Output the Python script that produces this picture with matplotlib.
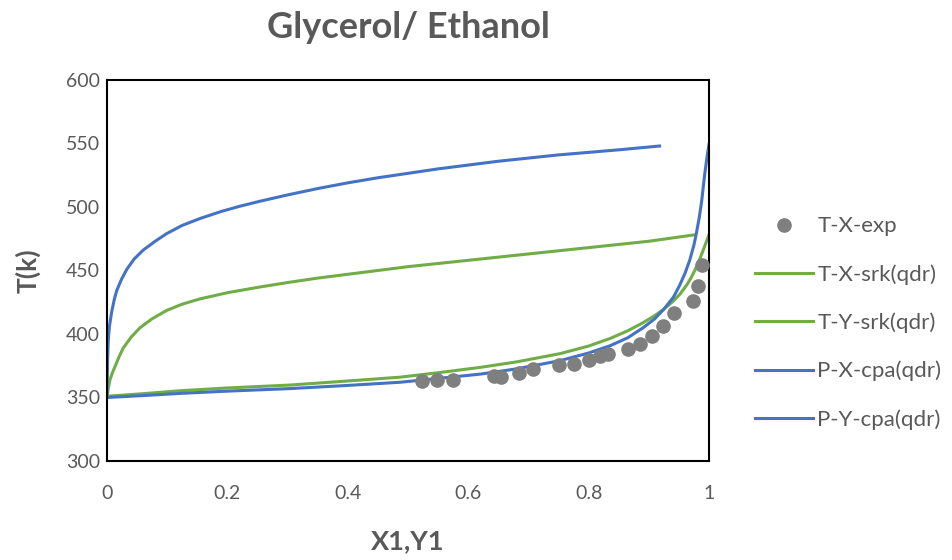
import numpy as np
import matplotlib
matplotlib.use("Agg")
from matplotlib import pyplot as plt

# experimental points T-X
x_exp = [0.524, 0.549, 0.574, 0.643, 0.655, 0.684, 0.708, 0.751, 0.776, 0.801,
         0.819, 0.833, 0.866, 0.885, 0.906, 0.923, 0.942, 0.974, 0.981, 0.988]
t_exp = [363.2, 363.7, 363.7, 367.0, 365.9, 369.0, 372.5, 375.8, 376.4, 379.5,
         383.0, 384.3, 388.2, 392.1, 398.7, 406.6, 416.3, 425.8, 437.4, 454.0]

# srk(qdr), liquid (X) and vapour (Y) branches
x_srk_x = [0, 0.06, 0.121, 0.2, 0.304, 0.4, 0.487, 0.55, 0.62, 0.68, 0.7525, 0.8, 0.836,
           0.865, 0.891, 0.91, 0.925, 0.941, 0.952, 0.963, 0.97, 0.977, 0.983, 0.988, 0.994, 1.0]
t_srk_x = [351, 353, 355.3, 357.5, 359.8, 363, 366, 369.5, 373.7, 378, 384.5, 390.5, 396.5,
           402.5, 409, 414.5, 419.5, 426, 431.5, 438.5, 444, 450.5, 457, 463, 470.5, 478]
x_srk_y = [0, 0.002, 0.005, 0.009, 0.013, 0.02, 0.027, 0.04, 0.055, 0.075, 0.099, 0.125, 0.155,
           0.2, 0.254, 0.3, 0.35, 0.4, 0.45, 0.5, 0.55, 0.6, 0.65, 0.7, 0.75, 0.8, 0.85, 0.9, 0.975]
t_srk_y = [350, 357, 364, 369.5, 374, 382, 389, 397.5, 405, 412, 418.5, 423.5, 427.7,
           432.5, 437, 440.5, 444, 447, 450, 453, 455.5, 458, 460.5, 463, 465.5, 468, 470.5, 473, 478]

# cpa(qdr)
x_cpa_x = [0, 0.06, 0.121, 0.2, 0.304, 0.4, 0.487, 0.55, 0.62, 0.68, 0.7525, 0.8, 0.836, 0.865,
           0.891, 0.91, 0.925, 0.941, 0.951, 0.96, 0.968, 0.975, 0.979, 0.984, 0.988, 0.993, 0.997, 1.0]
t_cpa_x = [350, 351.5, 353.2, 355, 357, 359.5, 362, 365, 368.4, 372.5, 379, 385, 390.8, 397,
           405, 412, 419.5, 429, 438, 447.5, 458, 470, 479, 492, 505, 526, 540, 549]
x_cpa_y = [0, 0.001, 0.002, 0.004, 0.008, 0.012, 0.016, 0.024, 0.033, 0.045, 0.06, 0.08, 0.099,
           0.125, 0.155, 0.19, 0.22, 0.254, 0.3, 0.35, 0.4, 0.45, 0.5, 0.55, 0.6, 0.65, 0.7,
           0.75, 0.8, 0.85, 0.918]
t_cpa_y = [350, 380, 394, 406, 418, 427, 434, 443, 451, 459, 466, 473, 479,
           485.5, 491, 496.5, 500.5, 504.5, 509.5, 514.5, 519, 523, 526.5, 530, 533, 536, 538.5,
           541, 543, 545, 548]

plt.rcParams['font.family'] = ['Lato', 'DejaVu Sans']
grey = '#595959'
green = '#70AD47'
blue = '#4472C4'

fig = plt.figure(figsize=(9.52, 5.6), dpi=100)
ax = fig.add_axes([0.1124, 0.1768, 0.6323, 0.6804])

ax.plot(x_exp, t_exp, 'o', color='#7F7F7F', markersize=9.5, label='T-X-exp', zorder=3)
ax.plot(x_srk_x, t_srk_x, color=green, lw=2.2, label='T-X-srk(qdr)')
ax.plot(x_srk_y, t_srk_y, color=green, lw=2.2, label='T-Y-srk(qdr)')
ax.plot(x_cpa_x, t_cpa_x, color=blue, lw=2.2, label='P-X-cpa(qdr)')
ax.plot(x_cpa_y, t_cpa_y, color=blue, lw=2.2, label='P-Y-cpa(qdr)')

ax.set_xlim(0, 1)
ax.set_ylim(300, 600)
ax.set_xticks([0, 0.2, 0.4, 0.6, 0.8, 1])
ax.set_xticklabels(['0', '0.2', '0.4', '0.6', '0.8', '1'])
ax.set_yticks(range(300, 601, 50))
ax.tick_params(length=0, labelsize=14, labelcolor=grey)
ax.tick_params(axis='x', pad=17)
ax.tick_params(axis='y', pad=5)
for s in ax.spines.values():
    s.set_color('black')
    s.set_linewidth(1.5)

ax.set_title('Glycerol/ Ethanol', fontsize=26, fontweight='bold', color=grey, pad=30)
ax.set_xlabel('X1,Y1', fontsize=19.5, fontweight='bold', color=grey, labelpad=20)
ax.set_ylabel('T(k)', fontsize=19, fontweight='bold', color=grey, labelpad=18)

leg = ax.legend(loc='center left', bbox_to_anchor=(0.772, 0.423), bbox_transform=fig.transFigure,
                frameon=False, fontsize=16, labelspacing=1.25, handlelength=2.6,
                handletextpad=0.2, labelcolor=grey)

fig.savefig('out.png', dpi=100)
